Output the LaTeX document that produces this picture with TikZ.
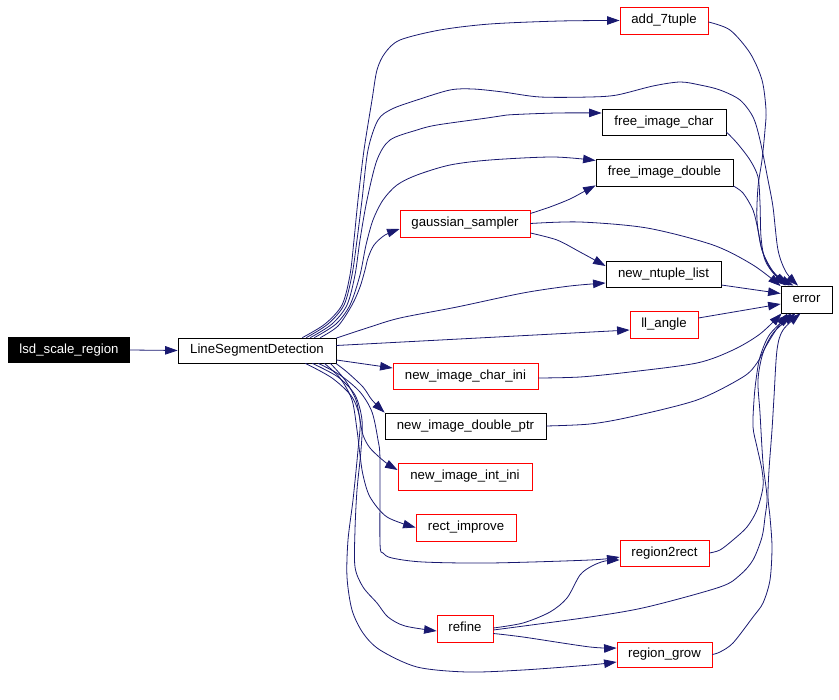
\documentclass[tikz,border=0pt]{standalone}
\usepackage{fontspec}
\setmainfont{Liberation Sans}
\usetikzlibrary{arrows.meta}
\definecolor{navy}{RGB}{25,25,112}
\begin{document}
\begin{tikzpicture}[x=1pt,y=-1pt,
  fn/.style={draw=black, line width=0.8pt, minimum height=26pt, inner sep=0pt, font=\fontsize{13.2}{15}\selectfont, text height=9.6pt, text depth=2.6pt},
  rfn/.style={fn, draw=red},
  conn/.style={draw=navy, line width=0.8pt, -{Triangle[length=12.5pt,width=8.5pt]}},
  sm/.style={smooth, tension=0.5}]
\useasboundingbox (0,0) rectangle (839,700);
% nodes
\node[fn, fill=black, text=white, minimum width=121pt, minimum height=25pt] (lsd) at (69,350) {lsd\_scale\_region};
\node[fn, minimum width=158pt, minimum height=25pt] (det) at (257,350.5) {LineSegmentDetection};
\node[rfn, minimum width=88pt, minimum height=27pt] (add) at (664,20.5) {add\_7tuple};
\node[fn, minimum width=124pt] (fic) at (664,122) {free\_image\_char};
\node[fn, minimum width=137pt, minimum height=27pt] (fid) at (664.5,172.5) {free\_image\_double};
\node[rfn, minimum width=130pt, minimum height=27pt] (gs) at (465,223.5) {gaussian\_sampler};
\node[fn, minimum width=115pt] (nnl) at (663.5,274) {new\_ntuple\_list};
\node[fn, minimum width=51pt, minimum height=27pt] (err) at (806.5,299.5) {error};
\node[rfn, minimum width=68pt, minimum height=27pt] (ll) at (664,324.5) {ll\_angle};
\node[rfn, minimum width=145pt] (nici) at (465.5,376) {new\_image\_char\_ini};
\node[fn, minimum width=161pt] (nidp) at (465.5,426) {new\_image\_double\_ptr};
\node[rfn, minimum width=134pt, minimum height=27pt] (niii) at (465,476.5) {new\_image\_int\_ini};
\node[rfn, minimum width=100pt, minimum height=27pt] (ri) at (466,527.5) {rect\_improve};
\node[rfn, minimum width=89pt] (rr) at (664.5,553) {region2rect};
\node[rfn, minimum width=56pt, minimum height=27pt] (ref) at (465,628.5) {refine};
\node[rfn, minimum width=95pt, minimum height=25pt] (rg) at (664.5,654.5) {region\_grow};
% connectors
\draw[conn] (lsd.east) -- (det.west);
% top bundle
\draw[conn] plot[sm] coordinates {([xshift=-34pt]det.north east) (325,324) (342,305) (350,275) (354,240) (358,200) (364,150) (372,100) (377,70) (385,53) (400,40) (440,30) (490,24) (560,21) (add.west)};
\draw[conn] plot[sm] coordinates {([xshift=-30pt]det.north east) (328,324) (344,305) (352,275) (357,240) (362,200) (368,150) (378,120) (392,109) (417,100) (450,90) (473,89) (503,92) (540,97) (590,97) (617,95) (653,86) (680,82) (700,85) (720,90) (740,100) (753,117) (760,140) (768,180) (773,207) (778,250) (786,272) ([xshift=-8.5pt]err.north)};
\draw[conn] plot[sm] coordinates {([xshift=-26pt]det.north east) (332,324) (347,305) (355,275) (360,240) (367,200) (377,160) (390,140) (417,130) (437,125) (487,118) (507,115) (557,113) ([yshift=9pt]fic.west)};
\draw[conn] plot[sm] coordinates {([xshift=-22pt]det.north east) (336,324) (350,305) (360,275) (366,245) (373,220) (383,200) (397,185) (417,175) (450,165) (490,160) (553,157) ([yshift=12pt]fid.west)};
\draw[conn] plot[sm] coordinates {([xshift=-16pt]det.north east) (338,326) (352,305) (360,287) (365,270) (368,258) (374,245) (385,235) ([yshift=-5.5pt]gs.west)};
\draw[conn] plot[sm] coordinates {([yshift=10pt]gs.east) (550,207) (570,199) (585,191) ([yshift=1pt]fid.south west)};
\draw[conn] plot[sm] coordinates {(gs.east) (580,222) (647,228) (713,245) (753,265) ([yshift=-0.5pt]err.north west)};
\draw[conn] plot[sm] coordinates {([yshift=-9.5pt]gs.east) (557,240) (580,252) ([yshift=8pt]nnl.west)};
\draw[conn] plot[sm] coordinates {([yshift=-0.5pt]det.north east) (370,327) (400,318) (457,307) (523,293) (570,286) ([yshift=-9pt]nnl.west)};
\draw[conn] ([yshift=5pt]det.east) -- ([yshift=-5.5pt]ll.west);
\draw[conn] ([yshift=-9.5pt]det.east) -- ([yshift=8pt]nici.west);
% to error from the right column
\draw[conn] ([yshift=-11pt]nnl.east) -- ([yshift=6pt]err.west);
\draw[conn] ([yshift=6.5pt]ll.east) -- ([yshift=-4.5pt]err.west);
\draw[conn] plot[sm] coordinates {([yshift=-1.5pt]add.east) (730,30) (750,53) (762,80) (766,110) (765,130) (762,160) (758,187) (757,220) (762,250) (772,270) ([xshift=-21pt]err.north)};
\draw[conn] plot[sm] coordinates {([yshift=-10pt]fic.east) (737,143) (750,160) (758,177) (760,203) (761,237) (765,260) (775,275) ([xshift=-17pt]err.north)};
\draw[conn] plot[sm] coordinates {([yshift=-13.5pt]fid.east) (743,193) (753,210) (758,230) (762,250) (770,268) (780,278) ([xshift=-13pt]err.north)};
% to error from below
\draw[conn] plot[sm] coordinates {([yshift=-2pt]nici.east) (580,377) (630,372) (697,363) (733,350) (760,334) ([xshift=1pt]err.south west)};
\draw[conn] plot[sm] coordinates {(nidp.east) (590,424) (630,417) (697,400) (743,377) (757,363) (765,348) (774,333) ([xshift=-19pt]err.south)};
\draw[conn] plot[sm] coordinates {(rr.east) (720,550) (733,540) (747,527) (757,510) (763,487) (762,470) (757,447) (753,427) (754,400) (756,380) (760,357) (770,334) ([xshift=-15pt]err.south)};
\draw[conn] plot[sm] coordinates {([yshift=-1.5pt]ref.east) (590,617) (647,607) (720,587) (740,575) (753,560) (762,537) (765,517) (767,497) (763,463) (760,413) (758,380) (763,353) (774,332) ([xshift=-11pt]err.south)};
\draw[conn] plot[sm] coordinates {(rg.east) (720,652) (733,643) (753,617) (763,603) (770,580) (772,547) (770,517) (768,497) (769,470) (772,430) (774,397) (777,350) (783,330) ([xshift=-6pt]err.south)};
% bottom bundle
\draw[conn] plot[sm] coordinates {([xshift=-0.5pt]det.south east) (347,372) (363,387) (372,400) (nidp.north west)};
\draw[conn] plot[sm] coordinates {([xshift=-6pt]det.south east) (345,380) (356,400) (360,420) (363,435) (370,448) (385,462) ([yshift=6.5pt]niii.west)};
\draw[conn] plot[sm] coordinates {([xshift=-12pt]det.south east) (340,378) (352,400) (357,430) (360,455) (363,475) (370,497) (387,517) (ri.west)};
\draw[conn] plot[sm] coordinates {([xshift=-18pt]det.south east) (340,375) (360,392) (372,412) (378,440) (380,460) (380,543) (383,553) (392,558) (423,562) (490,563) (590,560) ([yshift=-4pt]rr.west)};
\draw[conn] plot[sm] coordinates {([xshift=-24pt]det.south east) (338,377) (355,395) (362,420) (361,450) (357,490) (355,530) (355,567) (363,587) (377,603) (388,617) (405,626) ([yshift=-2.5pt]ref.west)};
\draw[conn] plot[sm] coordinates {([xshift=-31pt]det.south east) (332,378) (352,397) (360,420) (358,450) (353,500) (348,540) (347,577) (352,610) (363,633) (380,650) (417,667) (467,672) (523,670) (590,665) ([yshift=-7.5pt]rg.west)};
% from refine
\draw[conn] plot[sm] coordinates {([yshift=0.5pt]ref.east) (523,623) (550,612) (567,598) (580,575) (592,566) (605,561) ([yshift=-7pt]rr.west)};
\draw[conn] plot[sm] coordinates {([yshift=-5pt]ref.east) (523,637) (590,647) ([yshift=6.5pt]rg.west)};
\end{tikzpicture}
\end{document}
